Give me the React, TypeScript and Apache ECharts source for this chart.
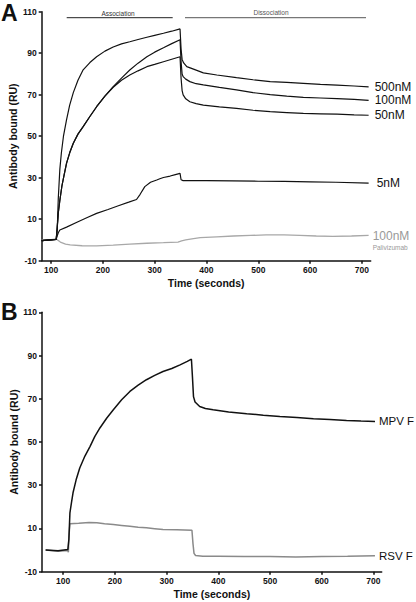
import React, { useEffect, useRef } from "react";
import * as echarts from "echarts";

// ---- Panel A: antibody binding (time s, RU) ----
const xTicksA = [100, 200, 300, 400, 500, 600, 700];
const yTicks = [-10, 10, 30, 50, 70, 90, 110];

const nM500: number[][] = [
  [82, -0.3], [110, 0.3], [112, 5], [114, 20], [117, 34], [120, 42], [124, 50], [130, 58],
  [136, 65], [143, 71], [152, 77], [162, 82], [175, 85.5], [188, 88.3], [204, 91], [220, 93],
  [236, 94.5], [252, 95.5], [268, 96.6], [285, 97.7], [300, 98.6], [317, 99.6], [333, 100.6],
  [349, 101.7], [351, 92], [353, 87], [356, 85.3], [362, 83.5], [375, 82.3], [394, 80.5],
  [420, 79.5], [458, 78.2], [490, 77.2], [523, 76.3], [555, 75.9], [587, 75.5], [620, 75],
  [652, 74.6], [685, 74.2], [713, 73.8],
];
const nM100: number[][] = [
  [82, -0.3], [110, 0.3], [112, 6], [114, 13], [117, 19], [121, 26], [125, 31], [130, 37],
  [136, 42], [143, 46.6], [152, 51], [162, 54.6], [175, 59.5], [188, 64.2], [204, 69.3],
  [220, 73.9], [236, 78], [252, 81.9], [268, 85.2], [285, 88.3], [300, 90.5], [317, 92.6],
  [333, 94.6], [349, 96.5], [351, 86], [353, 80], [355, 78.7], [360, 77.5], [368, 76.3],
  [380, 75.3], [394, 74.7], [425, 73.5], [458, 72.3], [490, 71], [523, 70], [555, 69.3],
  [587, 68.7], [620, 68.4], [652, 68.1], [685, 67.7], [713, 67.3],
];
const nM50: number[][] = [
  [82, -0.3], [110, 0.3], [112, 6], [114, 13], [117, 19], [121, 26], [125, 31], [130, 37],
  [136, 42], [143, 46.6], [152, 51], [162, 54.6], [175, 59.5], [188, 64.2], [204, 69.3],
  [220, 73.6], [236, 77], [252, 79.5], [268, 81.5], [285, 83.5], [300, 84.6], [317, 85.9],
  [333, 87.1], [349, 88.3], [351, 78], [353, 72], [355, 69.9], [360, 68], [368, 66.6],
  [380, 65.7], [394, 65], [425, 64.1], [458, 63.4], [490, 62.5], [523, 61.8], [555, 61.4],
  [587, 61], [620, 60.8], [652, 60.6], [685, 60.3], [713, 60.1],
];
const nM5: number[][] = [
  [82, -0.3], [110, 0.3], [112, 2], [114, 3.5], [117, 4.8], [130, 6.2], [150, 8.5],
  [170, 10.8], [188, 12.8], [210, 14.7], [230, 16.5], [250, 18.2], [265, 19.5], [272, 22],
  [281, 25.7], [292, 27.8], [304, 28.9], [310, 29.5], [317, 30.1], [330, 30.8], [340, 31.5],
  [349, 32.1], [351, 29], [355, 28.6], [400, 28.6], [450, 28.5], [500, 28.3], [550, 28.2],
  [600, 28], [650, 27.8], [713, 27.4],
];
const palivizumab: number[][] = [
  [82, 0], [100, 0.2], [110, 0.5], [118, -1], [128, -2], [137, -2.4], [160, -2.8],
  [188, -2.9], [220, -2.5], [252, -2], [285, -1.6], [317, -1.3], [345, -1], [352, -0.5],
  [360, 0], [375, 0.6], [388, 1.1], [420, 1.5], [452, 1.9], [485, 2.2], [515, 2.4],
  [550, 2.4], [580, 2.2], [612, 1.9], [644, 1.7], [680, 1.9], [713, 2.2],
];

// ---- Panel B ----
const xTicksB = [100, 200, 300, 400, 500, 600, 700];
const mpvF: number[][] = [
  [66, 0], [90, -0.3], [109, 0.3], [111, 5], [113, 17.2], [116, 22], [119, 26.5], [125, 32.5],
  [132, 38], [142, 43.5], [152, 48], [161, 52.5], [171, 56.5], [184, 61], [197, 64.9],
  [213, 69.5], [229, 73.4], [245, 76.3], [261, 78.8], [277, 80.8], [293, 82.6], [310, 84],
  [326, 85.7], [340, 87.3], [348, 88.3], [350, 80], [352, 71], [355, 68.5], [364, 66.4],
  [375, 65.5], [390, 64.9], [420, 63.9], [455, 63.1], [487, 62.4], [519, 61.8], [552, 61.3],
  [584, 60.8], [616, 60.4], [648, 60], [676, 59.7], [703, 59.5],
];
const rsvF: number[][] = [
  [66, 0], [90, -0.5], [109, -0.2], [110, -1], [111, 6], [113, 12.2], [130, 12.4],
  [150, 12.8], [165, 12.6], [180, 12.2], [197, 11.8], [213, 11.4], [229, 11], [245, 10.6],
  [261, 10.3], [277, 9.9], [293, 9.5], [320, 9.4], [349, 9.2], [351, 3], [353, -1.5],
  [356, -2.5], [370, -2.8], [400, -2.8], [450, -3], [500, -3], [550, -3.2], [600, -3],
  [650, -2.9], [703, -2.6],
];

const FONT = "Liberation Sans, Arial, sans-serif";

function xAxisCfg(gridIndex: number, min: number, max: number, ticks: number[]) {
  return {
    type: "value",
    gridIndex,
    min,
    max,
    name: "Time (seconds)",
    nameLocation: "middle",
    nameGap: 17,
    nameTextStyle: { fontFamily: FONT, fontWeight: "bold", fontSize: 10.5, color: "#111" },
    axisLine: { show: true, onZero: false, lineStyle: { color: "#111", width: 1.5 } },
    axisTick: { show: true, customValues: ticks, length: 3, lineStyle: { color: "#111", width: 1.5 } },
    axisLabel: {
      customValues: ticks,
      margin: 5,
      fontFamily: FONT,
      fontWeight: "bold",
      fontSize: 8.5,
      color: "#111",
    },
    splitLine: { show: false },
  };
}

function yAxisCfg(gridIndex: number) {
  return {
    type: "value",
    gridIndex,
    min: yTicks[0],
    max: yTicks[yTicks.length - 1],
    interval: 20,
    name: "Antibody bound (RU)",
    nameLocation: "middle",
    nameGap: 23,
    nameMoveOverlap: false,
    nameTextStyle: { fontFamily: FONT, fontWeight: "bold", fontSize: 10.5, color: "#111" },
    axisLine: { show: true, onZero: false, lineStyle: { color: "#111", width: 1.5 } },
    axisTick: { show: true, length: 3, lineStyle: { color: "#111", width: 1.5 } },
    axisLabel: { margin: 5, fontFamily: FONT, fontWeight: "bold", fontSize: 8.5, color: "#111" },
    splitLine: { show: false },
  };
}

function lineSeries(
  name: string,
  data: number[][],
  axisIndex: number,
  color: string,
  width: number,
  labelColor: string,
  fontSize: number,
  distance: number,
  formatter?: string,
  rich?: any,
  offset?: number[]
) {
  return {
    type: "line",
    name,
    data,
    xAxisIndex: axisIndex,
    yAxisIndex: axisIndex,
    showSymbol: false,
    symbol: "none",
    lineStyle: { color, width },
    endLabel: {
      show: true,
      formatter: formatter || name,
      distance,
      color: labelColor,
      fontFamily: FONT,
      fontSize,
      rich,
      offset: offset || [0, 0],
    },
    z: 3,
  };
}

export default function App() {
  const ref = useRef<HTMLDivElement>(null);
  useEffect(() => {
    if (!ref.current) return;
    const chart = echarts.init(ref.current, null, { renderer: "svg" });
    chart.setOption({
      animation: false,
      backgroundColor: "#fff",
      grid: [
        { left: 41.7, top: 11.7, width: 329, height: 249, containLabel: false, outerBoundsMode: "none" },
        { left: 42, top: 312.3, width: 339.7, height: 259.4, containLabel: false, outerBoundsMode: "none" },
      ],
      xAxis: [xAxisCfg(0, 82, 717, xTicksA), xAxisCfg(1, 59, 716, xTicksB)],
      yAxis: [yAxisCfg(0), yAxisCfg(1)],
      series: [
        lineSeries("Palivizumab", palivizumab, 0, "#a8a8a8", 1.3, "#999", 12, 6,
          "{a|100nM}\n{b|Palivizumab}",
          {
            a: { fontFamily: FONT, fontSize: 12, color: "#999", lineHeight: 13 },
            b: { fontFamily: FONT, fontSize: 6.5, color: "#999", lineHeight: 10 },
          },
          [-2, 6]),
        lineSeries("5nM", nM5, 0, "#111", 1.2, "#111", 12, 6, undefined, undefined, [2, 0]),
        lineSeries("50nM", nM50, 0, "#111", 1.2, "#111", 12, 6),
        lineSeries("100nM", nM100, 0, "#111", 1.2, "#111", 12, 6),
        lineSeries("500nM", nM500, 0, "#111", 1.2, "#111", 12, 6),
        lineSeries("RSV F", rsvF, 1, "#8a8a8a", 1.5, "#111", 11.5, 4),
        lineSeries("MPV F", mpvF, 1, "#111", 1.5, "#111", 11.5, 4),
      ],
      graphic: [
        { type: "text", left: 1, top: 1, style: { text: "A", font: `bold 23px ${FONT}`, fill: "#111" } },
        { type: "text", left: 1, top: 300, style: { text: "B", font: `bold 23px ${FONT}`, fill: "#111" } },
        { type: "line", shape: { x1: 66.7, y1: 17.7, x2: 172.7, y2: 17.7 }, style: { stroke: "#222", lineWidth: 1 } },
        { type: "line", shape: { x1: 185, y1: 17.7, x2: 366, y2: 17.7 }, style: { stroke: "#777", lineWidth: 1.3 } },
        {
          type: "text", x: 118, y: 13.5,
          style: { text: "Association", font: `6.5px ${FONT}`, fill: "#333", align: "center", verticalAlign: "middle" },
        },
        {
          type: "text", x: 271, y: 12.7,
          style: { text: "Dissociation", font: `6.5px ${FONT}`, fill: "#555", align: "center", verticalAlign: "middle" },
        },
      ],
    });
    return () => chart.dispose();
  }, []);
  return (
    <div
      ref={ref}
      style={{ position: "fixed", left: 0, top: 0, width: 416, height: 602, background: "#fff" }}
    />
  );
}
